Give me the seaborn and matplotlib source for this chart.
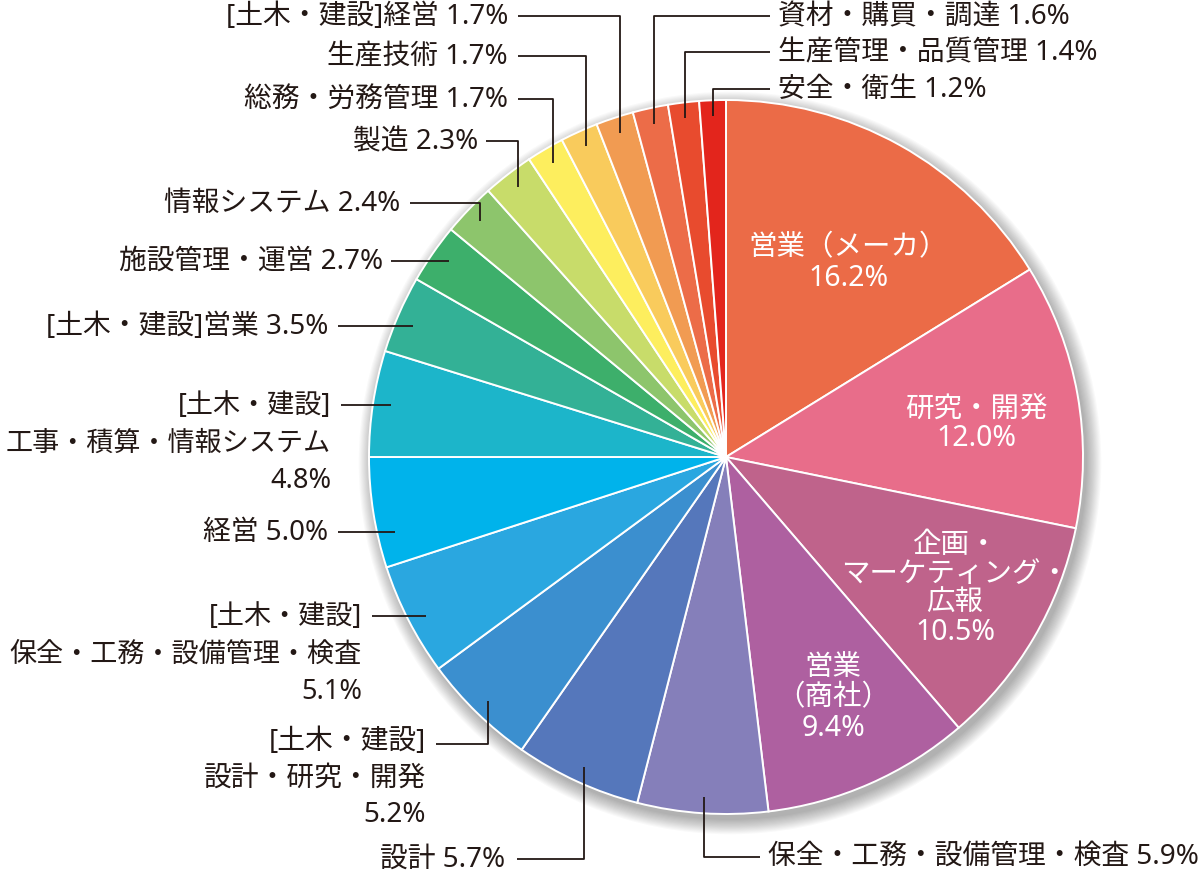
import matplotlib.pyplot as plt
import seaborn as sns
import numpy as np
from matplotlib.patches import Circle

sns.set_theme(style="white")
plt.rcParams['font.family'] = ['Noto Sans', 'Noto Sans CJK JP', 'DejaVu Sans']

# Data (clockwise from 12 o'clock)
categories = [
    "営業（メーカ）", "研究・開発", "企画・\nマーケティング・\n広報", "営業\n（商社）",
    "保全・工務・設備管理・検査", "設計", "[土木・建設]\n設計・研究・開発",
    "[土木・建設]\n保全・工務・設備管理・検査", "経営", "[土木・建設]\n工事・積算・情報システム",
    "[土木・建設]営業", "施設管理・運営", "情報システム", "製造", "総務・労務管理",
    "生産技術", "[土木・建設]経営", "資材・購買・調達", "生産管理・品質管理", "安全・衛生",
]
shares = [16.2, 12.0, 10.5, 9.4, 5.9, 5.7, 5.2, 5.1, 5.0, 4.8,
          3.5, 2.7, 2.4, 2.3, 1.7, 1.7, 1.7, 1.6, 1.4, 1.2]
colors = ["#EB6B47", "#E86D8A", "#BF638B", "#AE60A0", "#857FBA", "#5577BB",
          "#3B8FCF", "#2AA7E0", "#00B3EB", "#1CB5CA", "#33B196", "#3DAF6B",
          "#8DC56C", "#C8DC6A", "#FDEE5E", "#F9CB5C", "#F19B52", "#EC6C48",
          "#E84B2E", "#E3251C"]

W, H = 1200, 878
CX, CY, R = 726, 458, 357
TXT = "#231815"


def Y(y):
    return H - y


fig = plt.figure(figsize=(12, 8.78), dpi=100)
ax = fig.add_axes([0, 0, 1, 1])

# soft shadow under the pie
for i in range(14):
    ax.add_patch(Circle((CX + 4, Y(CY) - 6), R + i * 1.1, color="black",
                        alpha=0.022, lw=0, zorder=0))

wedges, _ = ax.pie(shares, colors=colors, startangle=90, counterclock=False,
                   center=(CX, Y(CY)), radius=R,
                   wedgeprops=dict(edgecolor="white", linewidth=1.4))
ax.set_xlim(0, W)
ax.set_ylim(0, H)
ax.set_aspect("equal")
ax.axis("off")

# inner labels: index -> (x, y center, linespacing)
inner = {0: (848, 263, 1.05), 1: (976, 424, 1.0), 2: (955, 589, 1.0), 3: (833, 698, 1.08)}
for i, (x, y, ls) in inner.items():
    ax.text(x, Y(y), f"{categories[i]}\n{shares[i]:.1f}%", color="white", fontsize=20.5,
            ha="center", va="center", multialignment="center", linespacing=ls)

# outer labels: index -> (text x, line y, ha, elbow, line x at text side, multiline)
outer = {
    4: (768, 858, "left", True, 760, False),
    5: (505, 860, "right", True, 517, False),
    6: (426, 745, "right", True, 436, True),
    7: (362, 617, "right", False, 372, True),
    8: (328, 533, "right", False, 338, False),
    9: (331, 406, "right", False, 341, True),
    10: (328, 327, "right", False, 338, False),
    11: (383, 262, "right", False, 391, False),
    12: (400, 204, "right", True, 410, False),
    13: (478, 142, "right", True, 486, False),
    14: (508, 100, "right", True, 518, False),
    15: (508, 57, "right", True, 518, False),
    16: (508, 17, "right", True, 518, False),
    17: (778, 17, "left", True, 770, False),
    18: (778, 53, "left", True, 770, False),
    19: (778, 90, "left", True, 770, False),
}
for i, (tx, ly, ha, elbow, lx, multi) in outer.items():
    w = wedges[i]
    mid = np.deg2rad((w.theta1 + w.theta2) / 2)
    if elbow:
        ax_x = CX + 0.955 * R * np.cos(mid)
        ax_y = Y(CY) + 0.955 * R * np.sin(mid)
        pts = [(lx, Y(ly)), (ax_x, Y(ly)), (ax_x, ax_y)]
    else:
        ax_x = CX - np.sqrt((0.95 * R) ** 2 - (ly - CY) ** 2)
        pts = [(lx, Y(ly)), (ax_x, Y(ly))]
    xs, ys = zip(*pts)
    ax.plot(xs, ys, color=TXT, lw=1.3, solid_capstyle="butt", zorder=3)
    fs = 19.5 if i in (7, 9) else 20
    if multi:
        label = f"{categories[i]}\n{shares[i]:.1f}%"
        top = 17 if i == 6 else 14
        ax.text(tx, Y(ly) + top, label, color=TXT, fontsize=fs, ha=ha, va="top",
                multialignment="right", linespacing=1.4 if i == 6 else 1.45)
    else:
        label = f"{categories[i]} {shares[i]:.1f}%"
        ax.text(tx, Y(ly), label, color=TXT, fontsize=fs, ha=ha, va="center")

fig.savefig("out.png", dpi=100, facecolor="white")
